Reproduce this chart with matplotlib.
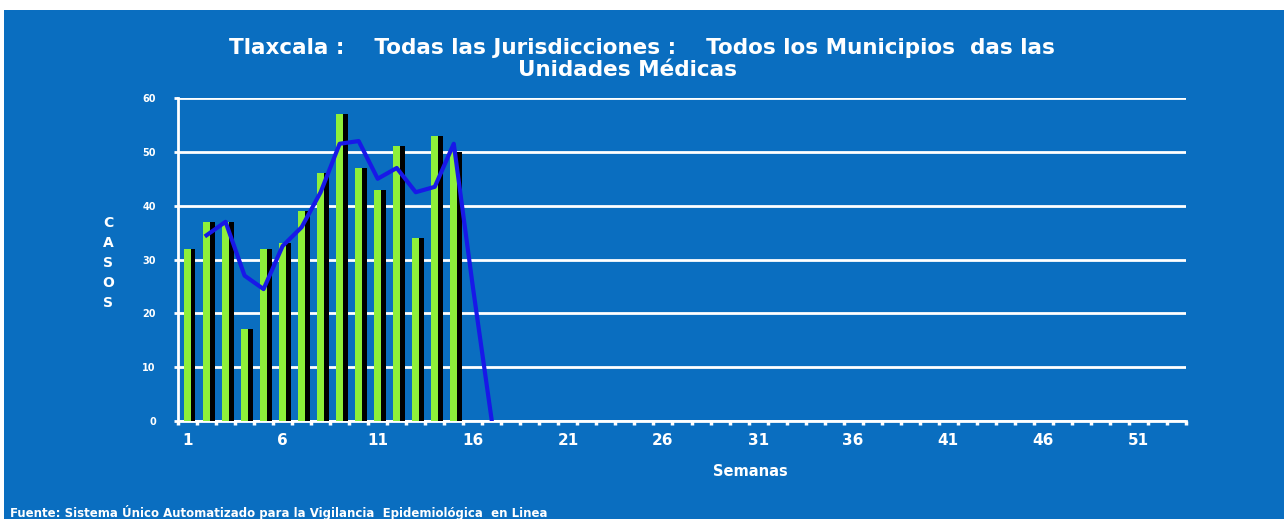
import numpy as np
import matplotlib.pyplot as plt
from matplotlib.patches import Rectangle

# weekly cases
weeks = list(range(1, 54))
casos = [32, 37, 37, 17, 32, 33, 39, 46, 57, 47, 43, 51, 34, 53, 50]
# trend line (weeks 2..17)
linea_sem = list(range(2, 18))
linea_val = [34.5, 37, 27, 24.5, 32.5, 36, 42.5, 51.5, 52, 45, 47, 42.5, 43.5, 51.5, 25, 0]
xticks = [1, 6, 11, 16, 21, 26, 31, 36, 41, 46, 51]
yticks = [0, 10, 20, 30, 40, 50, 60]

titulo1 = "Tlaxcala :    Todas las Jurisdicciones :    Todos los Municipios  das las"
titulo2 = "Unidades Médicas"
fuente = "Fuente: Sistema Único Automatizado para la Vigilancia  Epidemiológica  en Linea"

plt.rcParams['font.family'] = ['DejaVu Sans']
plt.rcParams['font.weight'] = 'bold'

azul = '#0A6EC0'
verde = '#8EF03A'

fig = plt.figure(figsize=(12.84, 5.19), dpi=100)
fig.patch.set_facecolor('white')
fig.patches.append(Rectangle((4 / 1284, 0), 1, 509 / 519, transform=fig.transFigure,
                             facecolor=azul, edgecolor='none', zorder=-10))

ax = fig.add_axes([178 / 1284, 98 / 519, 1008 / 1284, 323 / 519])
ax.set_facecolor(azul)

x = np.array(weeks[:len(casos)])
# black shadow, then green bar
ax.bar(x + 0.24, casos, width=0.36, color='black', zorder=3)
ax.bar(x - 0.02, casos, width=0.37, color=verde, zorder=4)
ax.plot(linea_sem, linea_val, color='#1818E8', linewidth=3, zorder=5, solid_joinstyle='round')

ax.set_xlim(0.5, 53.5)
ax.set_ylim(0, 60)
ax.set_yticks(yticks)
ax.set_xticks(xticks)
ax.set_xticks(np.arange(0.5, 54, 1), minor=True)
ax.yaxis.grid(True, color='white', linewidth=2, zorder=1)
ax.set_axisbelow(True)

for s in ['top', 'right']:
    ax.spines[s].set_visible(False)
for s in ['left', 'bottom']:
    ax.spines[s].set_color('white')
    ax.spines[s].set_linewidth(2)

ax.tick_params(axis='y', colors='white', labelsize=7, length=3, width=2, pad=13)
ax.tick_params(axis='x', which='major', colors='white', labelsize=11, length=0, pad=8.5)
ax.tick_params(axis='x', which='minor', colors='white', length=3, width=2.5)
for lab in ax.get_xticklabels() + ax.get_yticklabels():
    lab.set_fontweight('bold')

fig.text(642 / 1284, 1 - 48 / 519, titulo1, ha='center', va='center', color='white',
         fontsize=15.5, fontweight='bold')
fig.text(627 / 1284, 1 - 70 / 519, titulo2, ha='center', va='center', color='white',
         fontsize=15.5, fontweight='bold')
fig.text(108 / 1284, 1 - 263 / 519, "C\nA\nS\nO\nS", ha='center', va='center', color='white',
         fontsize=10, fontweight='bold', linespacing=1.55)
fig.text(750 / 1284, 1 - 471 / 519, "Semanas", ha='center', va='center', color='white',
         fontsize=10.5, fontweight='bold')
fig.text(10 / 1284, 1 - 512 / 519, fuente, ha='left', va='center', color='white',
         fontsize=8.5, fontweight='bold')

fig.savefig('out.png', dpi=100, facecolor=fig.get_facecolor())
